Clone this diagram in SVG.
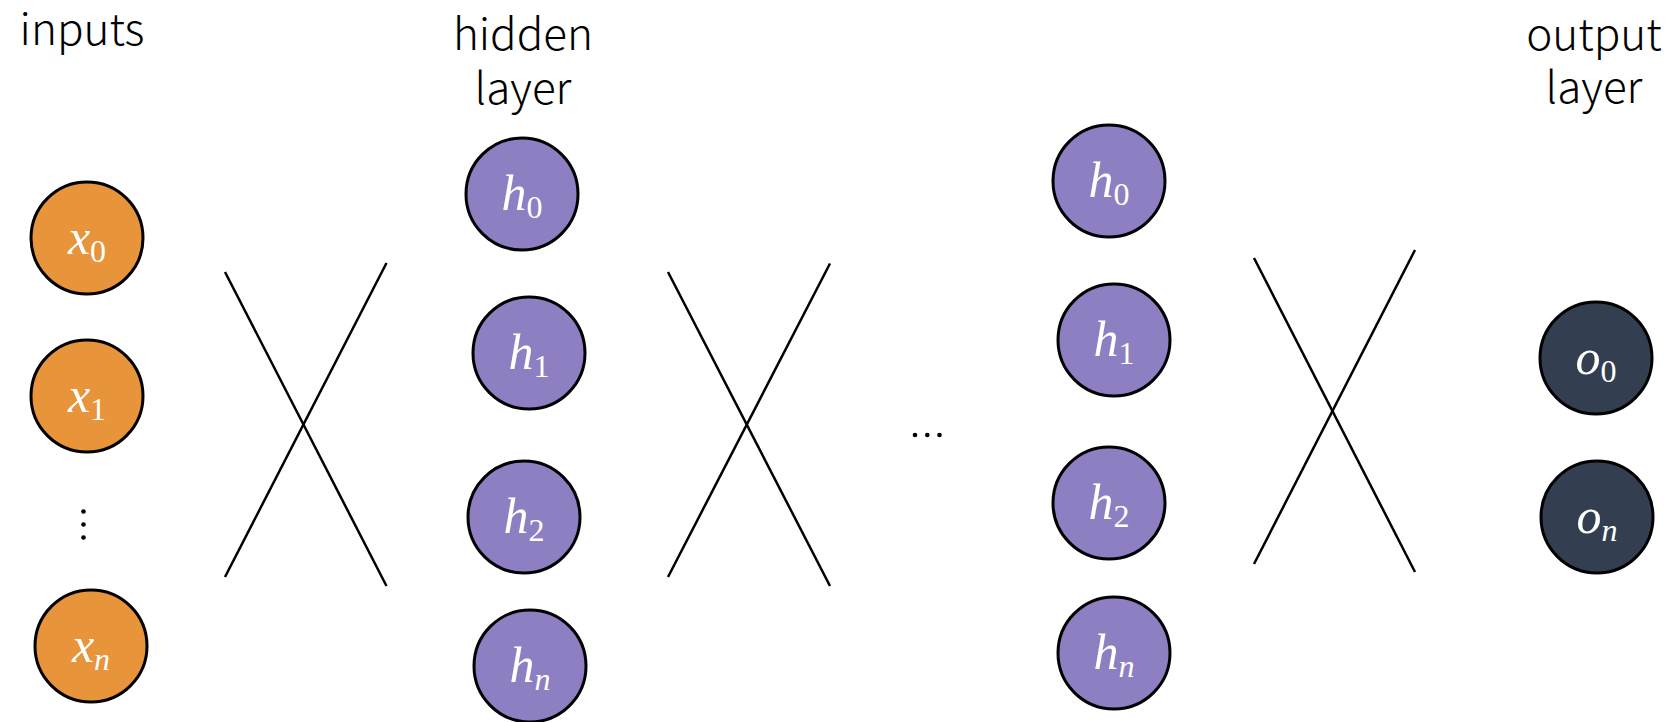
<svg xmlns="http://www.w3.org/2000/svg" width="1675" height="722" viewBox="0 0 1675 722">
<style>
.title{font-family:"Noto Sans CJK SC","Noto Sans","Liberation Sans",sans-serif;font-weight:300;font-size:44px;fill:#000;text-anchor:middle}
.in{fill:#E7943B;stroke:#000;stroke-width:3}
.hid{fill:#8E7FC2;stroke:#000;stroke-width:3}
.out{fill:#333F50;stroke:#000;stroke-width:3}
.lbl{font-family:"Liberation Serif","Times New Roman",serif;font-style:italic;font-size:50px;fill:#fff;text-anchor:middle}
.sub{font-style:normal;font-size:32px}
.sn{font-size:32px}
.edge{stroke:#000;stroke-width:2.5;fill:none}
.dot{fill:#000}
</style>
<rect width="1675" height="722" fill="#fff"/>
<g id="titles">
<text class="title" x="82" y="45">inputs</text>
<text class="title" x="523" y="50">hidden</text>
<text class="title" x="523" y="104">layer</text>
<text class="title" x="1594" y="50">output</text>
<text class="title" x="1594" y="103">layer</text>
</g>
<g id="connectors">
<line class="edge" x1="225" y1="272" x2="386.5" y2="586"/>
<line class="edge" x1="386.5" y1="263" x2="225" y2="577"/>
<line class="edge" x1="668" y1="272" x2="830" y2="586"/>
<line class="edge" x1="830" y1="263.5" x2="668" y2="577"/>
<line class="edge" x1="1254" y1="258" x2="1415" y2="572"/>
<line class="edge" x1="1415" y1="250" x2="1254" y2="564"/>
</g>
<g id="x0"><circle class="in" cx="87" cy="238" r="56"/><text class="lbl" x="87" y="254">x<tspan class="sub" dy="8">0</tspan></text></g>
<g id="x1"><circle class="in" cx="87" cy="396" r="56"/><text class="lbl" x="87" y="412">x<tspan class="sub" dy="8">1</tspan></text></g>
<g id="vdots"><circle class="dot" cx="83.5" cy="511.5" r="2.3"/><circle class="dot" cx="83.5" cy="524.5" r="2.3"/><circle class="dot" cx="83.5" cy="537.5" r="2.3"/></g>
<g id="xn"><circle class="in" cx="91" cy="646" r="56"/><text class="lbl" x="91" y="662">x<tspan class="sn" dy="8">n</tspan></text></g>
<g id="h1_0"><circle class="hid" cx="522" cy="194" r="56"/><text class="lbl" x="522" y="210">h<tspan class="sub" dy="8">0</tspan></text></g>
<g id="h1_1"><circle class="hid" cx="529" cy="353" r="56"/><text class="lbl" x="529" y="369">h<tspan class="sub" dy="8">1</tspan></text></g>
<g id="h1_2"><circle class="hid" cx="524" cy="517" r="56"/><text class="lbl" x="524" y="533">h<tspan class="sub" dy="8">2</tspan></text></g>
<g id="h1_n"><circle class="hid" cx="530" cy="666" r="56"/><text class="lbl" x="530" y="682">h<tspan class="sn" dy="8">n</tspan></text></g>
<g id="hdots"><circle class="dot" cx="915" cy="435" r="2.3"/><circle class="dot" cx="927.3" cy="435" r="2.3"/><circle class="dot" cx="939.5" cy="435" r="2.3"/></g>
<g id="h2_0"><circle class="hid" cx="1109" cy="181" r="56"/><text class="lbl" x="1109" y="197">h<tspan class="sub" dy="8">0</tspan></text></g>
<g id="h2_1"><circle class="hid" cx="1114" cy="340" r="56"/><text class="lbl" x="1114" y="356">h<tspan class="sub" dy="8">1</tspan></text></g>
<g id="h2_2"><circle class="hid" cx="1109" cy="503" r="56"/><text class="lbl" x="1109" y="519">h<tspan class="sub" dy="8">2</tspan></text></g>
<g id="h2_n"><circle class="hid" cx="1114" cy="653" r="56"/><text class="lbl" x="1114" y="669">h<tspan class="sn" dy="8">n</tspan></text></g>
<g id="o0"><circle class="out" cx="1596" cy="358" r="56"/><text class="lbl" x="1596" y="374">o<tspan class="sub" dy="8">0</tspan></text></g>
<g id="on"><circle class="out" cx="1597" cy="517" r="56"/><text class="lbl" x="1597" y="533">o<tspan class="sn" dy="8">n</tspan></text></g>
</svg>
